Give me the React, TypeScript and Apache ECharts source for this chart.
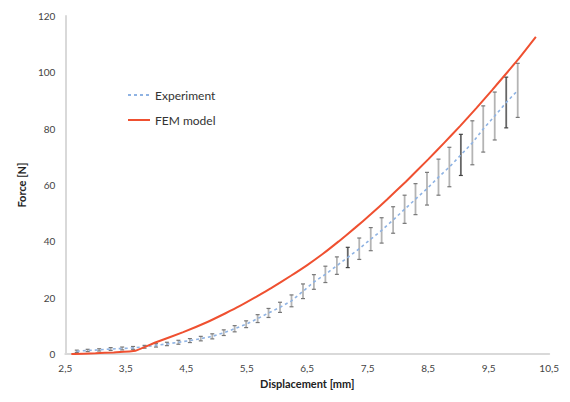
import React, { useEffect, useRef } from "react";
import * as echarts from "echarts";

// Experiment: displacement [mm], mean force [N], half error [N]
const expX = [2.69, 2.87, 3.06, 3.25, 3.44, 3.62, 3.81, 4.0, 4.18, 4.37, 4.56, 4.74, 4.93, 5.12, 5.3, 5.49, 5.68, 5.86, 6.05, 6.24, 6.43, 6.61, 6.8, 6.99, 7.17, 7.36, 7.55, 7.73, 7.92, 8.11, 8.29, 8.48, 8.67, 8.85, 9.04, 9.23, 9.41, 9.6, 9.79, 9.98];
const expMean = [1.0, 1.3, 1.5, 1.8, 2.0, 2.2, 2.6, 3.1, 3.6, 4.2, 4.8, 5.5, 6.3, 7.6, 9.0, 10.6, 12.6, 14.6, 16.6, 18.9, 22.3, 25.6, 28.3, 31.4, 34.3, 37.4, 40.8, 43.9, 47.6, 51.4, 55.0, 58.7, 62.8, 66.4, 70.7, 75.0, 79.9, 84.5, 89.3, 93.6];
const expErr = [0.4, 0.4, 0.4, 0.5, 0.5, 0.5, 0.5, 0.6, 0.6, 0.7, 0.7, 0.8, 0.9, 1.0, 1.1, 1.2, 1.4, 1.6, 1.8, 2.1, 2.6, 2.6, 2.9, 3.1, 3.6, 3.8, 4.1, 4.5, 4.7, 5.0, 5.5, 5.8, 6.4, 7.0, 7.3, 7.8, 8.2, 8.5, 9.0, 9.6];
const darkBars = [24, 34, 38];

// FEM model
const femX = [2.6, 3.0, 3.3, 3.66, 4.0, 4.45, 4.85, 5.15, 5.38, 5.67, 5.91, 6.23, 6.5, 6.76, 7.02, 7.29, 7.55, 7.82, 8.13, 8.5, 8.76, 9.03, 9.3, 9.56, 9.98, 10.28];
const femY = [0, 0.3, 0.6, 1.2, 4.2, 7.8, 11.4, 14.5, 17.0, 20.5, 23.5, 27.8, 31.6, 35.6, 40.0, 44.8, 49.6, 54.9, 61.2, 69.1, 74.9, 81.0, 87.4, 93.8, 104.4, 112.6];

const FONT = "Lato, 'Liberation Sans', sans-serif";
const SOLID_ICON = "path://M0,0H22V2H0Z";
const DASH_ICON = "path://M0,0H3V2H0Z M6,0H9V2H6Z M12,0H15V2H12Z M18,0H21V2H18Z M22,0H22.01V2H22Z";

export default function App() {
  const ref = useRef<HTMLDivElement>(null);
  useEffect(() => {
    if (!ref.current) return;
    const chart = echarts.init(ref.current, null, { renderer: "svg" });
    const meanData = expX.map((x, i) => [x, expMean[i]]);
    const errData = expX.map((x, i) => [x, expMean[i] - expErr[i], expMean[i] + expErr[i], darkBars.includes(i) ? 1 : 0]);
    const femData = femX.map((x, i) => [x, femY[i]]);
    chart.setOption({
      animation: false,
      grid: { left: 47, right: 3, top: 8, bottom: 37 },
      legend: {
        orient: "vertical",
        left: 115,
        top: 76,
        itemWidth: 22,
        itemHeight: 2,
        itemGap: 13,
        textStyle: { fontFamily: FONT, fontSize: 12, color: "#333" },
        data: [
          { name: "Experiment", icon: DASH_ICON, itemStyle: { color: "#8fb3e3" } },
          { name: "FEM model", icon: SOLID_ICON, itemStyle: { color: "#ef5030" } },
        ],
      },
      xAxis: {
        type: "value",
        min: 2.5,
        max: 10.5,
        interval: 1,
        name: "Displacement [mm]",
        nameLocation: "middle",
        nameGap: 23,
        nameTextStyle: { fontFamily: FONT, fontSize: 11, fontWeight: "bold", color: "#222" },
        axisLine: { show: true, lineStyle: { color: "#d9d9d9", width: 2 } },
        axisTick: { show: false },
        splitLine: { show: false },
        axisLabel: {
          fontFamily: FONT,
          fontSize: 10,
          color: "#444",
          margin: 9,
          formatter: (v: number) => v.toFixed(1).replace(".", ","),
        },
      },
      yAxis: {
        type: "value",
        min: 0,
        max: 120,
        interval: 20,
        name: "Force [N]",
        nameLocation: "middle",
        nameGap: 38,
        nameTextStyle: { fontFamily: FONT, fontSize: 11, fontWeight: "bold", color: "#222" },
        axisLine: { show: true, lineStyle: { color: "#d9d9d9", width: 2 } },
        axisTick: { show: false },
        splitLine: { show: false },
        axisLabel: { fontFamily: FONT, fontSize: 10, color: "#444", margin: 10 },
      },
      series: [
        {
          name: "Experiment",
          type: "line",
          data: meanData,
          symbol: "none",
          z: 3,
          lineStyle: { color: "#8fb3e3", width: 1.6, type: [3, 3] },
          itemStyle: { color: "#8fb3e3" },
        },
        {
          name: "errbars",
          type: "custom",
          data: errData,
          z: 2,
          renderItem: (params: any, api: any) => {
            const x = api.value(0);
            const lo = api.coord([x, api.value(1)]);
            const hi = api.coord([x, api.value(2)]);
            const dark = api.value(3) === 1;
            const body = dark ? "#666" : "#b4b4b4";
            const cap = dark ? "#444" : "#777";
            const w = 2;
            return {
              type: "group",
              children: [
                { type: "line", shape: { x1: lo[0], y1: lo[1], x2: hi[0], y2: hi[1] }, style: { stroke: body, lineWidth: 1.8 } },
                { type: "line", shape: { x1: lo[0] - w, y1: lo[1], x2: lo[0] + w, y2: lo[1] }, style: { stroke: cap, lineWidth: 1.2 } },
                { type: "line", shape: { x1: hi[0] - w, y1: hi[1], x2: hi[0] + w, y2: hi[1] }, style: { stroke: cap, lineWidth: 1.2 } },
              ],
            };
          },
        },
        {
          name: "FEM model",
          type: "line",
          data: femData,
          symbol: "none",
          smooth: 0.15,
          z: 4,
          lineStyle: { color: "#ef5030", width: 2 },
          itemStyle: { color: "#ef5030" },
        },
      ],
    });
    return () => chart.dispose();
  }, []);
  return <div ref={ref} style={{ width: 554, height: 386 }} />;
}
